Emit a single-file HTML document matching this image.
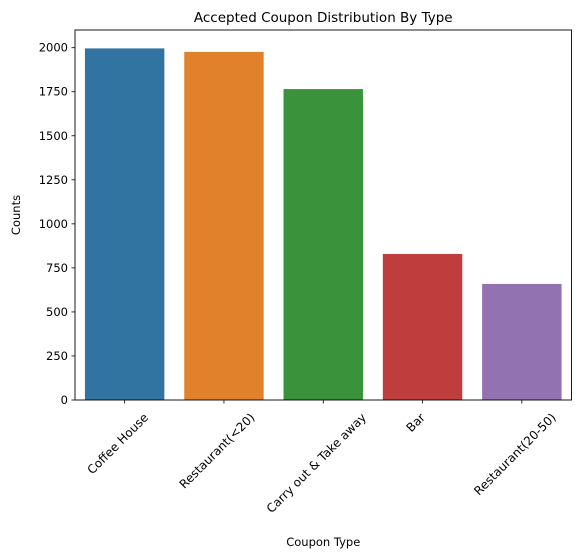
<!DOCTYPE html>
<html><head><meta charset="utf-8"><style>
body{margin:0;background:#fff}
svg{display:block;font-family:"DejaVu Sans","Liberation Sans",sans-serif}
</style></head><body>
<svg id="chart" width="581" height="560" viewBox="0 0 581 560"></svg>
<script>
const categories = ["Coffee House","Restaurant(<20)","Carry out & Take away","Bar","Restaurant(20-50)"];
const counts = [1996, 1976, 1765, 829, 659];
const yTicks = [0,250,500,750,1000,1250,1500,1750,2000];
const colors = ["#3274a1","#e1812c","#3a923a","#c03d3e","#9372b2"];

const svg = document.getElementById('chart');
const NS = 'http://www.w3.org/2000/svg';
const L=75,R=571.5,T=30,B=400;
const yMax = 2000/((B-47.7)/(B-T));
const y = v => B - v/yMax*(B-T);
const step = (R-L)/categories.length;
const xc = i => L + step*(i+0.5);
function mk(tag, attrs, parent){const e=document.createElementNS(NS,tag);for(const k in attrs)e.setAttribute(k,attrs[k]);(parent||svg).appendChild(e);return e;}

categories.forEach((c,i)=>{
  const r = mk('rect',{x:xc(i)-step*0.4,y:y(counts[i]),width:step*0.8,height:B-y(counts[i]),fill:colors[i]});
  
  
  mk('line',{x1:xc(i),x2:xc(i),y1:B,y2:B+3.5,stroke:'#000','stroke-width':0.8});
  const t = mk('text',{x:0,y:4.2,'font-size':12,'text-anchor':'middle'});
  t.textContent = c;
  
  
  const len = t.getComputedTextLength();
  const half = (len*0.7071 + 12*0.7071)/2;
  t.setAttribute('transform',`translate(${xc(i)-7},${B+11+half}) rotate(-45)`);
});
yTicks.forEach(v=>{
  mk('line',{x1:L-3.5,x2:L,y1:y(v),y2:y(v),stroke:'#000','stroke-width':0.8});
  const t = mk('text',{x:L-7,y:y(v)+4,'font-size':11.5,'text-anchor':'end'});
  t.textContent = v;
  
  
});
const frame = mk('rect',{x:L,y:T,width:R-L,height:B-T,fill:'none',stroke:'#000','stroke-width':0.9});


const title = mk('text',{x:(L+R)/2,y:22,'font-size':13.5,'text-anchor':'middle'});
title.textContent='Accepted Coupon Distribution By Type';


const xl = mk('text',{x:(L+R)/2,y:546,'font-size':11.5,'text-anchor':'middle'});
xl.textContent='Coupon Type';


const yl = mk('text',{x:0,y:0,'font-size':11.5,'text-anchor':'middle',transform:`translate(20,${(T+B)/2}) rotate(-90)`});
yl.textContent='Counts';


</script>
</body></html>
